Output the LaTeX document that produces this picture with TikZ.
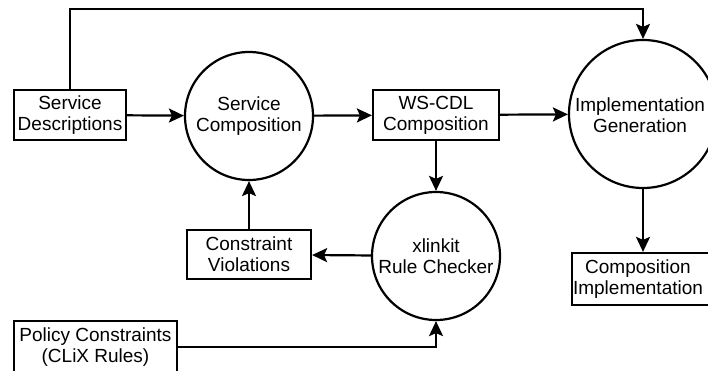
\documentclass[tikz,border=0pt]{standalone}
\usepackage{fontspec}
\setmainfont{Liberation Sans}
\usetikzlibrary{arrows.meta}
\begin{document}
\begin{tikzpicture}[x=1pt,y=-1pt,
  every node/.style={font=\fontsize{19}{21}\selectfont, align=center, inner sep=0pt},
  boxnode/.style={draw, line width=2.2pt, rectangle},
  procnode/.style={draw, line width=2.2pt, circle},
  flow/.style={line width=2.2pt, -{Stealth[length=15pt,width=14pt,inset=3pt]}},
  plainline/.style={line width=2.2pt}]
  \useasboundingbox (0,0) rectangle (708,371);

  % data stores and processes
  \node[boxnode, minimum width=112pt, minimum height=50pt] (sd) at (70,115) {Service\\Descriptions};
  \node[procnode, minimum size=128pt] (sc) at (249,116) {Service\\Composition};
  \node[boxnode, minimum width=126pt, minimum height=50pt] (ws) at (436,115) {WS-CDL\\Composition};
  \node[procnode, minimum size=148pt] (ig) at (643,114) {};
  \node at (640,115) {Implementation\\Generation};
  \node[boxnode, minimum width=142pt, minimum height=52pt] (ci) at (643,279) {};
  \node at (638,279) {Composition\\Implementation};
  \node[procnode, minimum size=128pt] (rc) at (436,256) {xlinkit\\Rule Checker};
  \node[boxnode, minimum width=124pt, minimum height=49pt] (cv) at (249,254.5) {Constraint\\Violations};
  \node[boxnode, minimum width=163pt, minimum height=52pt] (pc) at (95.5,347) {Policy Constraints\\(CLiX Rules)};

  % bend points of the routed connectors
  \coordinate (topl) at (70,9);
  \coordinate (topr) at (643,9);
  \coordinate (pcturn) at (436,347);

  % connectors
  \draw[flow] (sd) -- (sc);
  \draw[flow] (sc) -- (ws);
  \draw[flow] (ws) -- (ig);
  \draw[flow] (ws) -- (rc);
  \draw[flow] (ig) -- (ci);
  \draw[flow] (rc) -- (cv);
  \draw[flow] (cv) -- (sc);
  \draw[flow] (sd.north -| topl) -- (topl) -- (topr) -- (ig.north);
  \draw[flow] (pc.east) -- (pcturn) -- (rc.south);
\end{tikzpicture}
\end{document}
